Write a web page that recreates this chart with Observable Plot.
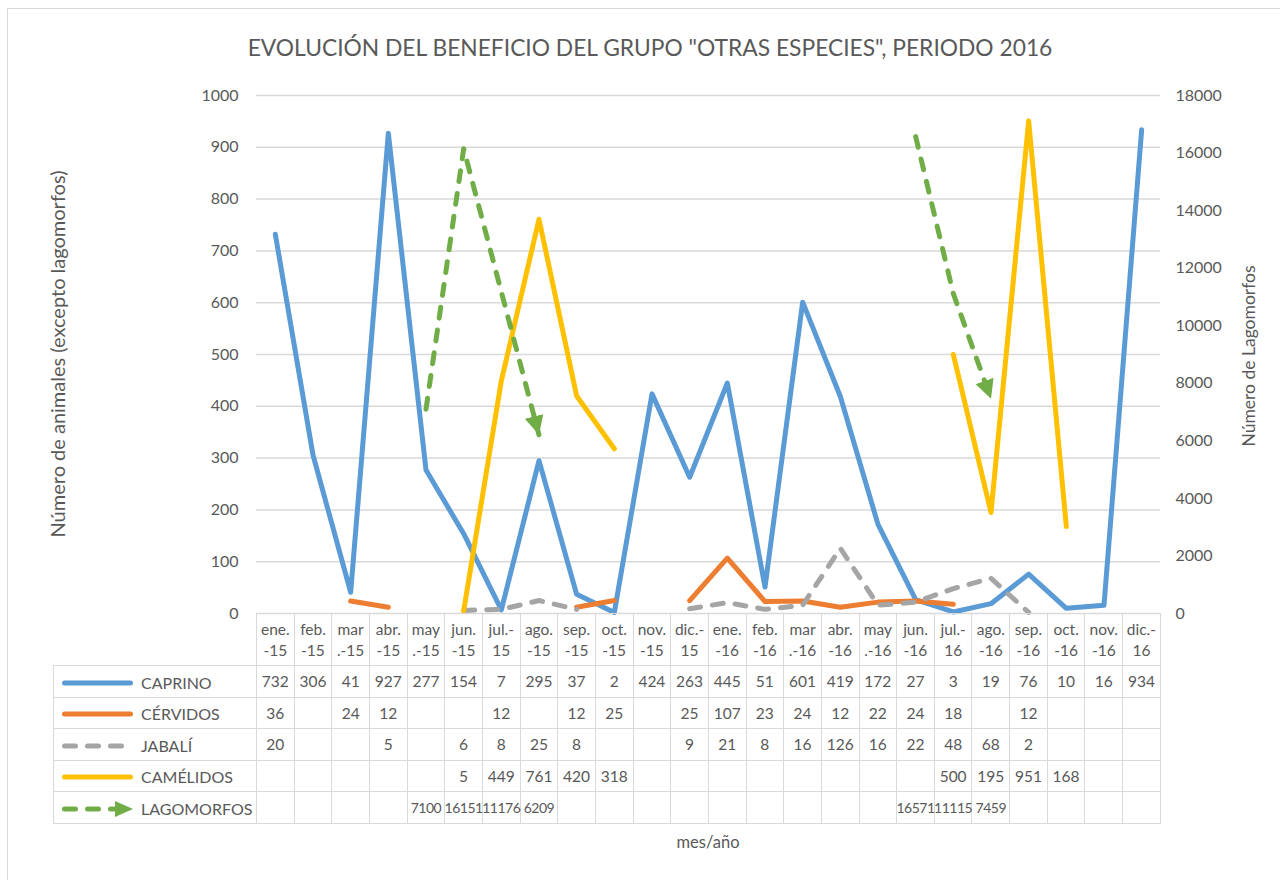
<!DOCTYPE html>
<html>
<head>
<meta charset="utf-8">
<script src="https://cdn.jsdelivr.net/npm/d3@7"></script>
<script src="https://cdn.jsdelivr.net/npm/@observablehq/plot@0.6"></script>
<style>
  html, body { margin: 0; padding: 0; background: #fff; }
  #chart { position: relative; width: 1280px; height: 880px; overflow: hidden; font-family: Lato, "Open Sans", sans-serif; color: #595959; }
  #frame { position: absolute; left: 7px; top: 8px; width: 1320px; height: 920px; border: 1.5px solid #d9d9d9; box-sizing: border-box; }
  #plot { position: absolute; left: 0; top: 0; }
  .title { position: absolute; left: 0; width: 1300px; top: 33px; text-align: center; font-size: 22.8px; white-space: nowrap; }
  .vtitle { position: absolute; transform: translate(-50%, -50%) rotate(-90deg); white-space: nowrap; }
  .xtitle { position: absolute; transform: translate(-50%, -50%); white-space: nowrap; font-size: 16.5px; }
  table.dt { position: absolute; border-collapse: collapse; table-layout: fixed; font-size: 15.5px; color: #595959; }
  table.dt td { border: 1.5px solid #d9d9d9; padding: 0; text-align: center; white-space: nowrap; overflow: visible; }
  table.dt td .c { display: flex; justify-content: center; width: 100%; }
  table.dt tr.head td { line-height: 21px; }
  table.dt tr.head td.blank { border-top: none; border-left: none; }
  table.dt tr.lago td .c { font-size: 14px; letter-spacing: -0.5px; }
  table.dt td.lab { text-align: left; font-size: 16px; }
  table.dt td.lab svg { vertical-align: middle; margin-left: 8px; margin-right: 7px; }
  table.dt td.lab span { vertical-align: middle; }
</style>
</head>
<body>
<div id="chart">
  <div id="frame"></div>
</div>
<script>
// ---------------- data ----------------
const months = ["ene.-15","feb.-15","mar.-15","abr.-15","may.-15","jun.-15","jul.-15","ago.-15","sep.-15","oct.-15","nov.-15","dic.-15",
                "ene.-16","feb.-16","mar.-16","abr.-16","may.-16","jun.-16","jul.-16","ago.-16","sep.-16","oct.-16","nov.-16","dic.-16"];
const monthLabels = ["ene.\n-15","feb.\n-15","mar\n.-15","abr.\n-15","may\n.-15","jun.\n-15","jul.-\n15","ago.\n-15","sep.\n-15","oct.\n-15","nov.\n-15","dic.-\n15",
                     "ene.\n-16","feb.\n-16","mar\n.-16","abr.\n-16","may\n.-16","jun.\n-16","jul.-\n16","ago.\n-16","sep.\n-16","oct.\n-16","nov.\n-16","dic.-\n16"];
const caprino    = [732,306,41,927,277,154,7,295,37,2,424,263,445,51,601,419,172,27,3,19,76,10,16,934];
const cervidos   = [36,null,24,12,null,null,12,null,12,25,null,25,107,23,24,12,22,24,18,null,12,null,null,null];
const jabali     = [20,null,null,5,null,6,8,25,8,null,null,9,21,8,16,126,16,22,48,68,2,null,null,null];
const camelidos  = [null,null,null,null,null,5,449,761,420,318,null,null,null,null,null,null,null,null,500,195,951,168,null,null];
const lagomorfos = [null,null,null,null,7100,16151,11176,6209,null,null,null,null,null,null,null,null,null,16571,11115,7459,null,null,null,null];
const seriesNames = ["CAPRINO","CÉRVIDOS","JABALÍ","CAMÉLIDOS","LAGOMORFOS"];
const leftTicks  = [0,100,200,300,400,500,600,700,800,900,1000];
const rightTicks = [0,2000,4000,6000,8000,10000,12000,14000,16000,18000];
const titleText = "EVOLUCIÓN DEL BENEFICIO DEL GRUPO \"OTRAS ESPECIES\", PERIODO 2016";
const leftTitle = "Número de animales (excepto lagomorfos)";
const rightTitle = "Número de Lagomorfos";
const xTitle = "mes/año";

// ---------------- styles ----------------
const leftMax = leftTicks[leftTicks.length - 1];
const rightMax = rightTicks[rightTicks.length - 1];
const lagoFactor = leftMax / rightMax;   // secondary axis -> primary units
const seriesStyle = [
  {values: caprino,    color: "#5B9BD5", dash: null,    arrow: false, factor: 1},
  {values: cervidos,   color: "#ED7D31", dash: null,    arrow: false, factor: 1},
  {values: jabali,     color: "#A5A5A5", dash: "11,12", arrow: false, factor: 1},
  {values: camelidos,  color: "#FFC000", dash: null,    arrow: false, factor: 1},
  {values: lagomorfos, color: "#70AD47", dash: "11,12", arrow: true,  factor: lagoFactor}
];

// Build line rows: split into runs, drop isolated points (Excel does not draw them without markers)
function runs(values, name, factor) {
  const rows = [];
  let seg = 0;
  values.forEach((v, i) => {
    if (v == null) return;
    const prevOk = i > 0 && values[i - 1] != null;
    const nextOk = i < values.length - 1 && values[i + 1] != null;
    if (!prevOk) seg++;
    if (prevOk || nextOk) rows.push({month: months[i], v: v * factor, seg: name + "-" + seg});
  });
  return rows;
}

const lineMarks = seriesStyle.map((s, k) => Plot.line(runs(s.values, seriesNames[k], s.factor), {
  x: "month", y: "v", z: "seg",
  stroke: s.color, strokeWidth: 5,
  strokeLinecap: "round", strokeLinejoin: "round",
  strokeDasharray: s.dash || undefined,
  markerEnd: s.arrow ? "arrow" : undefined
}));

const W = 1280, H = 880;
const plot = Plot.plot({
  width: W, height: H,
  marginTop: 95, marginBottom: H - 613, marginLeft: 256, marginRight: W - 1160,
  style: {fontFamily: "Lato, 'Open Sans', sans-serif", fontSize: "16px", color: "#595959", background: "transparent", overflow: "visible"},
  x: {type: "point", domain: months, padding: 0.5, round: false, axis: null},
  y: {domain: [0, leftMax]},
  marks: [
    Plot.ruleY(leftTicks, {stroke: "#d9d9d9", strokeWidth: 1.5}),
    Plot.axisY(leftTicks, {anchor: "left", tickSize: 0, tickPadding: 18, label: null, tickFormat: d => String(d)}),
    Plot.axisY(rightTicks.map(t => t * lagoFactor), {anchor: "right", tickSize: 0, tickPadding: 15, label: null,
      tickFormat: d => String(Math.round(d / lagoFactor))}),
    ...lineMarks
  ]
});
plot.id = "plot";
document.getElementById("chart").appendChild(plot);

// filled triangular arrowheads like Excel
plot.querySelectorAll("marker").forEach(m => {
  const color = m.getAttribute("stroke") || "#70AD47";
  m.setAttribute("viewBox", "-10 -5 10 10");
  m.setAttribute("markerUnits", "userSpaceOnUse");
  m.setAttribute("markerWidth", "19");
  m.setAttribute("markerHeight", "19");
  m.setAttribute("refX", "0");
  m.setAttribute("refY", "0");
  m.setAttribute("fill", color);
  m.setAttribute("stroke", "none");
  m.innerHTML = "";
  const p = document.createElementNS("http://www.w3.org/2000/svg", "path");
  p.setAttribute("d", "M-10,-5L0,0L-10,5Z");
  m.appendChild(p);
});

// ---------------- titles ----------------
const chart = document.getElementById("chart");
function addDiv(cls, text, css) {
  const d = document.createElement("div");
  d.className = cls; d.textContent = text;
  Object.assign(d.style, css);
  chart.appendChild(d);
  return d;
}
addDiv("title", titleText, {});
addDiv("vtitle", leftTitle, {left: "57px", top: "354px", fontSize: "20px"});
addDiv("vtitle", rightTitle, {left: "1248px", top: "356px", fontSize: "17.5px"});
addDiv("xtitle", xTitle, {left: "708px", top: "842px"});

// ---------------- data table ----------------
const xs = plot.scale("x");
const x0 = Math.min(...xs.range), x1 = Math.max(...xs.range);
const step = (x1 - x0) / months.length;
const tableLeft = 53;
const table = document.createElement("table");
table.className = "dt";
table.style.left = tableLeft + "px";
table.style.top = "613px";
table.style.width = (x1 - tableLeft) + "px";
const colgroup = document.createElement("colgroup");
const c0 = document.createElement("col"); c0.style.width = (x0 - tableLeft) + "px"; colgroup.appendChild(c0);
months.forEach(() => { const c = document.createElement("col"); c.style.width = step + "px"; colgroup.appendChild(c); });
table.appendChild(colgroup);

const head = document.createElement("tr");
head.className = "head"; head.style.height = "52px";
const blank = document.createElement("td"); blank.className = "blank"; head.appendChild(blank);
monthLabels.forEach(l => {
  const td = document.createElement("td");
  td.innerHTML = l.split("\n").map(t => `<div>${t}</div>`).join("");
  head.appendChild(td);
});
table.appendChild(head);

function legendSvg(s) {
  let inner;
  if (s.arrow) {
    inner = `<path d="M2.5,6H52" stroke="${s.color}" stroke-width="5" stroke-linecap="round" stroke-dasharray="11,12" fill="none"/>` +
            `<path d="M53,-2L71,6L53,14Z" fill="${s.color}"/>`;
  } else if (s.dash) {
    inner = `<path d="M2.5,6H64" stroke="${s.color}" stroke-width="5" stroke-linecap="round" stroke-dasharray="11,12" fill="none"/>`;
  } else {
    inner = `<path d="M2.5,6H68.5" stroke="${s.color}" stroke-width="5" stroke-linecap="round" fill="none"/>`;
  }
  return `<svg width="72" height="12" viewBox="0 0 72 12" style="overflow:visible">${inner}</svg>`;
}

seriesStyle.forEach((s, k) => {
  const tr = document.createElement("tr");
  tr.style.height = "31.6px";
  if (s.arrow) tr.className = "lago";
  const lab = document.createElement("td");
  lab.className = "lab";
  lab.innerHTML = legendSvg(s) + `<span>${seriesNames[k]}</span>`;
  tr.appendChild(lab);
  s.values.forEach(v => {
    const td = document.createElement("td");
    td.innerHTML = `<div class="c">${v == null ? "" : v}</div>`;
    tr.appendChild(td);
  });
  table.appendChild(tr);
});
chart.appendChild(table);
</script>
</body>
</html>
